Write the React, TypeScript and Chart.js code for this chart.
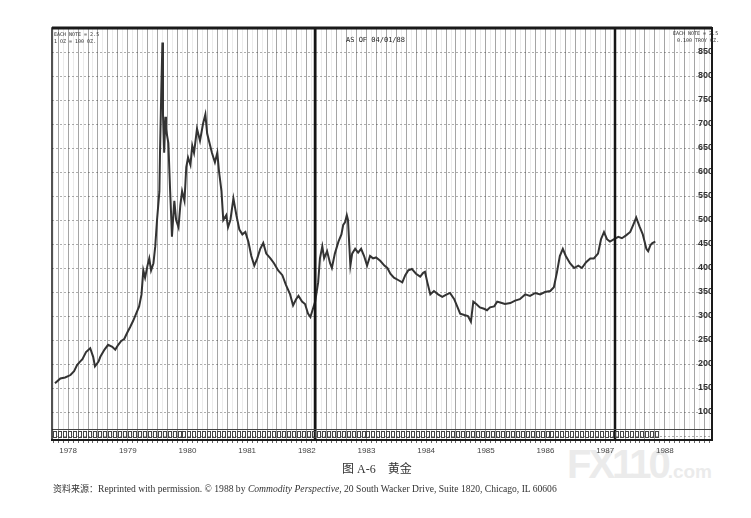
import React, { useEffect, useRef } from 'react';
import { Chart, registerables } from 'chart.js';

Chart.register(...registerables);

// Decimal-year dates and gold futures prices (USD/oz)
const dates = [
  1978.28, 1978.37, 1978.45, 1978.54, 1978.6, 1978.65, 1978.7, 1978.74, 1978.8, 1978.87,
  1978.92, 1978.95, 1979.01, 1979.04, 1979.11, 1979.17, 1979.24, 1979.29, 1979.34, 1979.39,
  1979.44, 1979.49, 1979.54, 1979.59, 1979.64, 1979.69, 1979.73, 1979.76, 1979.79, 1979.83,
  1979.86, 1979.89, 1979.93, 1979.96, 1979.99, 1980.03, 1980.04, 1980.06, 1980.08, 1980.09,
  1980.11, 1980.13, 1980.14, 1980.18, 1980.21, 1980.23, 1980.24, 1980.28, 1980.31, 1980.35,
  1980.38, 1980.41, 1980.45, 1980.48, 1980.51, 1980.55, 1980.58, 1980.61, 1980.66, 1980.71,
  1980.76, 1980.8, 1980.83, 1980.86, 1980.91, 1980.96, 1981.0, 1981.03, 1981.07, 1981.1,
  1981.15, 1981.18, 1981.22, 1981.27, 1981.32, 1981.37, 1981.42, 1981.47, 1981.52, 1981.57,
  1981.62, 1981.67, 1981.72, 1981.77, 1981.82, 1981.89, 1981.95, 1982.02, 1982.09, 1982.15,
  1982.22, 1982.27, 1982.32, 1982.36, 1982.42, 1982.47, 1982.52, 1982.56, 1982.59, 1982.64,
  1982.69, 1982.72, 1982.76, 1982.79, 1982.84, 1982.89, 1982.92, 1982.97, 1983.03, 1983.08,
  1983.11, 1983.14, 1983.17, 1983.19, 1983.23, 1983.26, 1983.31, 1983.36, 1983.41, 1983.46,
  1983.51, 1983.56, 1983.61, 1983.66, 1983.73, 1983.8, 1983.85, 1983.9, 1983.96, 1984.03,
  1984.1, 1984.15, 1984.2, 1984.26, 1984.33, 1984.4, 1984.45, 1984.48, 1984.52, 1984.57,
  1984.63, 1984.7, 1984.77, 1984.83, 1984.9, 1984.97, 1985.02, 1985.07, 1985.14, 1985.2,
  1985.25, 1985.29, 1985.34, 1985.4, 1985.47, 1985.52, 1985.57, 1985.64, 1985.69, 1985.74,
  1985.82, 1985.91, 1985.99, 1986.07, 1986.16, 1986.24, 1986.33, 1986.41, 1986.49, 1986.58,
  1986.64, 1986.69, 1986.74, 1986.79, 1986.84, 1986.91, 1986.98, 1987.05, 1987.11, 1987.18,
  1987.25, 1987.31, 1987.38, 1987.43, 1987.48, 1987.53, 1987.58, 1987.65, 1987.72, 1987.78,
  1987.85, 1987.92, 1987.97, 1988.02, 1988.05, 1988.08, 1988.13, 1988.16, 1988.19, 1988.22,
  1988.26, 1988.29, 1988.34,
];

const prices = [
  160, 170, 172, 177, 185, 198, 205, 210, 225, 233,
  215, 195, 205, 215, 230, 240, 236, 230, 240, 248,
  252, 265, 277, 290, 305, 320, 345, 395, 380, 405,
  420, 395, 410, 445, 500, 560, 640, 760, 870, 720,
  640, 715, 690, 660, 560, 500, 465, 540, 500, 485,
  530, 560, 540, 610, 630, 615, 655, 640, 690, 665,
  700, 720, 680, 665, 640, 620, 640, 600, 560, 500,
  510, 485, 500, 545, 510, 480, 470, 475, 455, 425,
  405, 420, 440, 452, 430, 420, 410, 395, 385, 365,
  345, 322, 335, 342, 330, 325, 305, 298, 310, 330,
  370, 420, 445, 420, 435, 410, 400, 430, 455, 470,
  490, 495, 510, 500, 405, 430, 440, 432, 440, 425,
  405, 425, 420, 422, 415, 405, 400, 388, 380, 375,
  370, 385, 395, 398, 388, 382, 390, 392, 370, 345,
  352, 345, 340, 344, 348, 335, 320, 305, 302, 300,
  288, 330, 325, 318, 315, 312, 318, 320, 330, 328,
  325, 327, 332, 335, 345, 342, 348, 345, 350, 352,
  360, 390, 425, 440, 425, 410, 400, 405, 400, 412,
  420, 420, 430, 460, 475, 460, 455, 460, 465, 462,
  468, 475, 490, 505, 495, 485, 470, 455, 440, 435,
  448, 452, 455,
];

const yearLabels = [1978, 1979, 1980, 1981, 1982, 1983, 1984, 1985, 1986, 1987, 1988];
const priceLabels = [100, 150, 200, 250, 300, 350, 400, 450, 500, 550, 600, 650, 700, 750, 800, 850];
const rolloverLines = [1982.64, 1987.66];
const X_MIN = 1978.23;
const X_MAX = 1989.29;
const Y_MIN = 41.67;
const Y_MAX = 900;
const DATA_START = 1978.25;
const DATA_END = 1988.34;

function monthTicks(): number[] {
  const out: number[] = [];
  for (let k = 0; ; k++) {
    const v = 1978 + k / 12;
    if (v > X_MAX) break;
    if (v >= X_MIN) out.push(v);
  }
  return out;
}

function priceGridTicks(): number[] {
  const out: number[] = [];
  for (let v = 50; v <= 900; v += 25) out.push(v);
  return out;
}

const framePlugin = {
  id: 'frameAndMarks',
  afterDatasetsDraw(chart: any) {
    const { ctx, chartArea } = chart;
    const { left, top, right, bottom } = chartArea;
    const xs = chart.scales.x;
    ctx.save();
    // contract roll-over lines
    ctx.strokeStyle = '#151515';
    ctx.lineWidth = 2.5;
    rolloverLines.forEach((v) => {
      const px = Math.round(xs.getPixelForValue(v));
      ctx.beginPath();
      ctx.moveTo(px, top);
      ctx.lineTo(px, bottom);
      ctx.stroke();
    });
    // row of small boxes along the bottom
    ctx.lineWidth = 1;
    ctx.strokeStyle = '#444';
    ctx.beginPath();
    ctx.moveTo(left, bottom - 10.5);
    ctx.lineTo(right, bottom - 10.5);
    ctx.stroke();
    monthTicks().forEach((v) => {
      if (v < DATA_START || v > DATA_END) return;
      const px = Math.round(xs.getPixelForValue(v));
      ctx.strokeRect(px + 0.5, bottom - 8.5, 3, 6);
    });
    // frame
    ctx.strokeStyle = '#1a1a1a';
    ctx.lineWidth = 1.5;
    ctx.strokeRect(left, top, right - left, bottom - top);
    ctx.lineWidth = 3;
    ctx.beginPath();
    ctx.moveTo(left, top);
    ctx.lineTo(right, top);
    ctx.stroke();
    ctx.lineWidth = 2;
    ctx.beginPath();
    ctx.moveTo(right, top);
    ctx.lineTo(right, bottom);
    ctx.lineTo(left, bottom);
    ctx.stroke();
    ctx.restore();
  },
};

export default function App() {
  const canvasRef = useRef<HTMLCanvasElement | null>(null);

  useEffect(() => {
    if (!canvasRef.current) return;
    const points = dates.map((d, i) => ({ x: d, y: prices[i] }));
    const chart = new Chart(canvasRef.current, {
      type: 'line',
      data: {
        datasets: [
          {
            data: points,
            borderColor: '#333',
            borderWidth: 2,
            pointRadius: 0,
            tension: 0,
            fill: false,
          },
        ],
      },
      options: {
        animation: false,
        responsive: false,
        devicePixelRatio: 1,
        parsing: false as any,
        layout: { padding: { left: 52, top: 28, right: 39, bottom: 48 } },
        plugins: { legend: { display: false }, tooltip: { enabled: false } },
        scales: {
          x: {
            type: 'linear',
            min: X_MIN,
            max: X_MAX,
            afterBuildTicks: (s: any) => {
              s.ticks = monthTicks().map((v) => ({ value: v }));
            },
            afterFit: (s: any) => {
              s.height = 30;
            },
            ticks: {
              autoSkip: false,
              maxRotation: 0,
              padding: 3,
              color: '#444',
              font: { size: 8, family: 'Liberation Sans' },
              callback: (v: any) => {
                const y = yearLabels.find((yr) => Math.abs(Number(v) - (yr + 0.5)) < 0.01);
                return y !== undefined ? String(y) : '';
              },
            },
            grid: {
              color: (c: any) => {
                const m = Math.round((c.tick.value - 1978) * 12);
                return m % 2 === 0 ? 'rgba(40,40,40,0.42)' : 'rgba(60,60,60,0.1)';
              },
              lineWidth: 1,
              drawTicks: true,
              tickLength: 3,
              tickColor: '#666',
            },
            border: { display: true, color: '#1a1a1a', width: 2 },
          },
          y: {
            type: 'linear',
            position: 'right',
            min: Y_MIN,
            max: Y_MAX,
            afterBuildTicks: (s: any) => {
              s.ticks = priceGridTicks().map((v) => ({ value: v }));
            },
            afterFit: (s: any) => {
              s.width = 0;
            },
            ticks: {
              mirror: true,
              padding: 1,
              color: '#333',
              font: { size: 9, family: 'Liberation Sans', weight: 'bold' },
              callback: (v: any) => (priceLabels.includes(Number(v)) ? String(v) : ''),
            },
            grid: {
              color: (c: any) =>
                c.tick.value % 50 === 0 ? 'rgba(50,50,50,0.4)' : 'rgba(80,80,80,0.16)',
              lineWidth: 1,
              drawTicks: false,
            },
            border: { display: true, color: '#1a1a1a', width: 2, dash: [2, 2] },
          },
        },
      },
      plugins: [framePlugin],
    });
    return () => chart.destroy();
  }, []);

  const small: React.CSSProperties = {
    position: 'absolute',
    fontFamily: '"DejaVu Sans Mono", monospace',
    fontSize: 5,
    color: '#333',
    whiteSpace: 'nowrap',
    lineHeight: '7px',
  };

  return (
    <div style={{ position: 'fixed', left: 0, top: 0, width: 751, height: 518, background: '#fff', overflow: 'hidden' }}>
      <div
        style={{
          position: 'absolute',
          left: 567,
          top: 442,
          fontFamily: '"Liberation Sans", sans-serif',
          fontWeight: 'bold',
          color: '#ebebeb',
          whiteSpace: 'nowrap',
          lineHeight: '44px',
        }}
      >
        <span style={{ fontSize: 40, letterSpacing: -3 }}>FX110</span>
        <span style={{ fontSize: 19 }}>.com</span>
      </div>
      <canvas ref={canvasRef} width={751} height={518} style={{ position: 'absolute', left: 0, top: 0, display: 'block' }} />
      <div style={{ ...small, left: 54, top: 31 }}>EACH NOTE = 2.5</div>
      <div style={{ ...small, left: 54, top: 38 }}>1 OZ = 100 OZ.</div>
      <div style={{ ...small, left: 673, top: 30 }}>EACH NOTE = 2.5</div>
      <div style={{ ...small, left: 677, top: 37 }}>0.100 TROY OZ.</div>
      <div
        style={{
          position: 'absolute',
          left: 346,
          top: 36,
          fontFamily: '"DejaVu Sans Mono", monospace',
          fontSize: 7,
          color: '#222',
          whiteSpace: 'nowrap',
        }}
      >
        AS OF 04/01/88
      </div>
      <div
        style={{
          position: 'absolute',
          left: 342,
          top: 459,
          fontFamily: '"Liberation Serif", "Noto Sans CJK SC", serif',
          fontSize: 12,
          color: '#333',
          whiteSpace: 'nowrap',
        }}
      >
        图 A-6{'\u3000'}黄金
      </div>
      <div
        style={{
          position: 'absolute',
          left: 53,
          top: 482,
          fontFamily: '"Liberation Serif", "Noto Sans CJK SC", serif',
          fontSize: 9.6,
          color: '#333',
          whiteSpace: 'nowrap',
        }}
      >
        <span style={{ fontFamily: '"Noto Sans CJK SC", sans-serif', fontSize: 9 }}>资料来源：</span>
        Reprinted with permission. © 1988 by <i>Commodity Perspective</i>, 20 South Wacker Drive, Suite 1820, Chicago, IL 60606
      </div>
    </div>
  );
}
